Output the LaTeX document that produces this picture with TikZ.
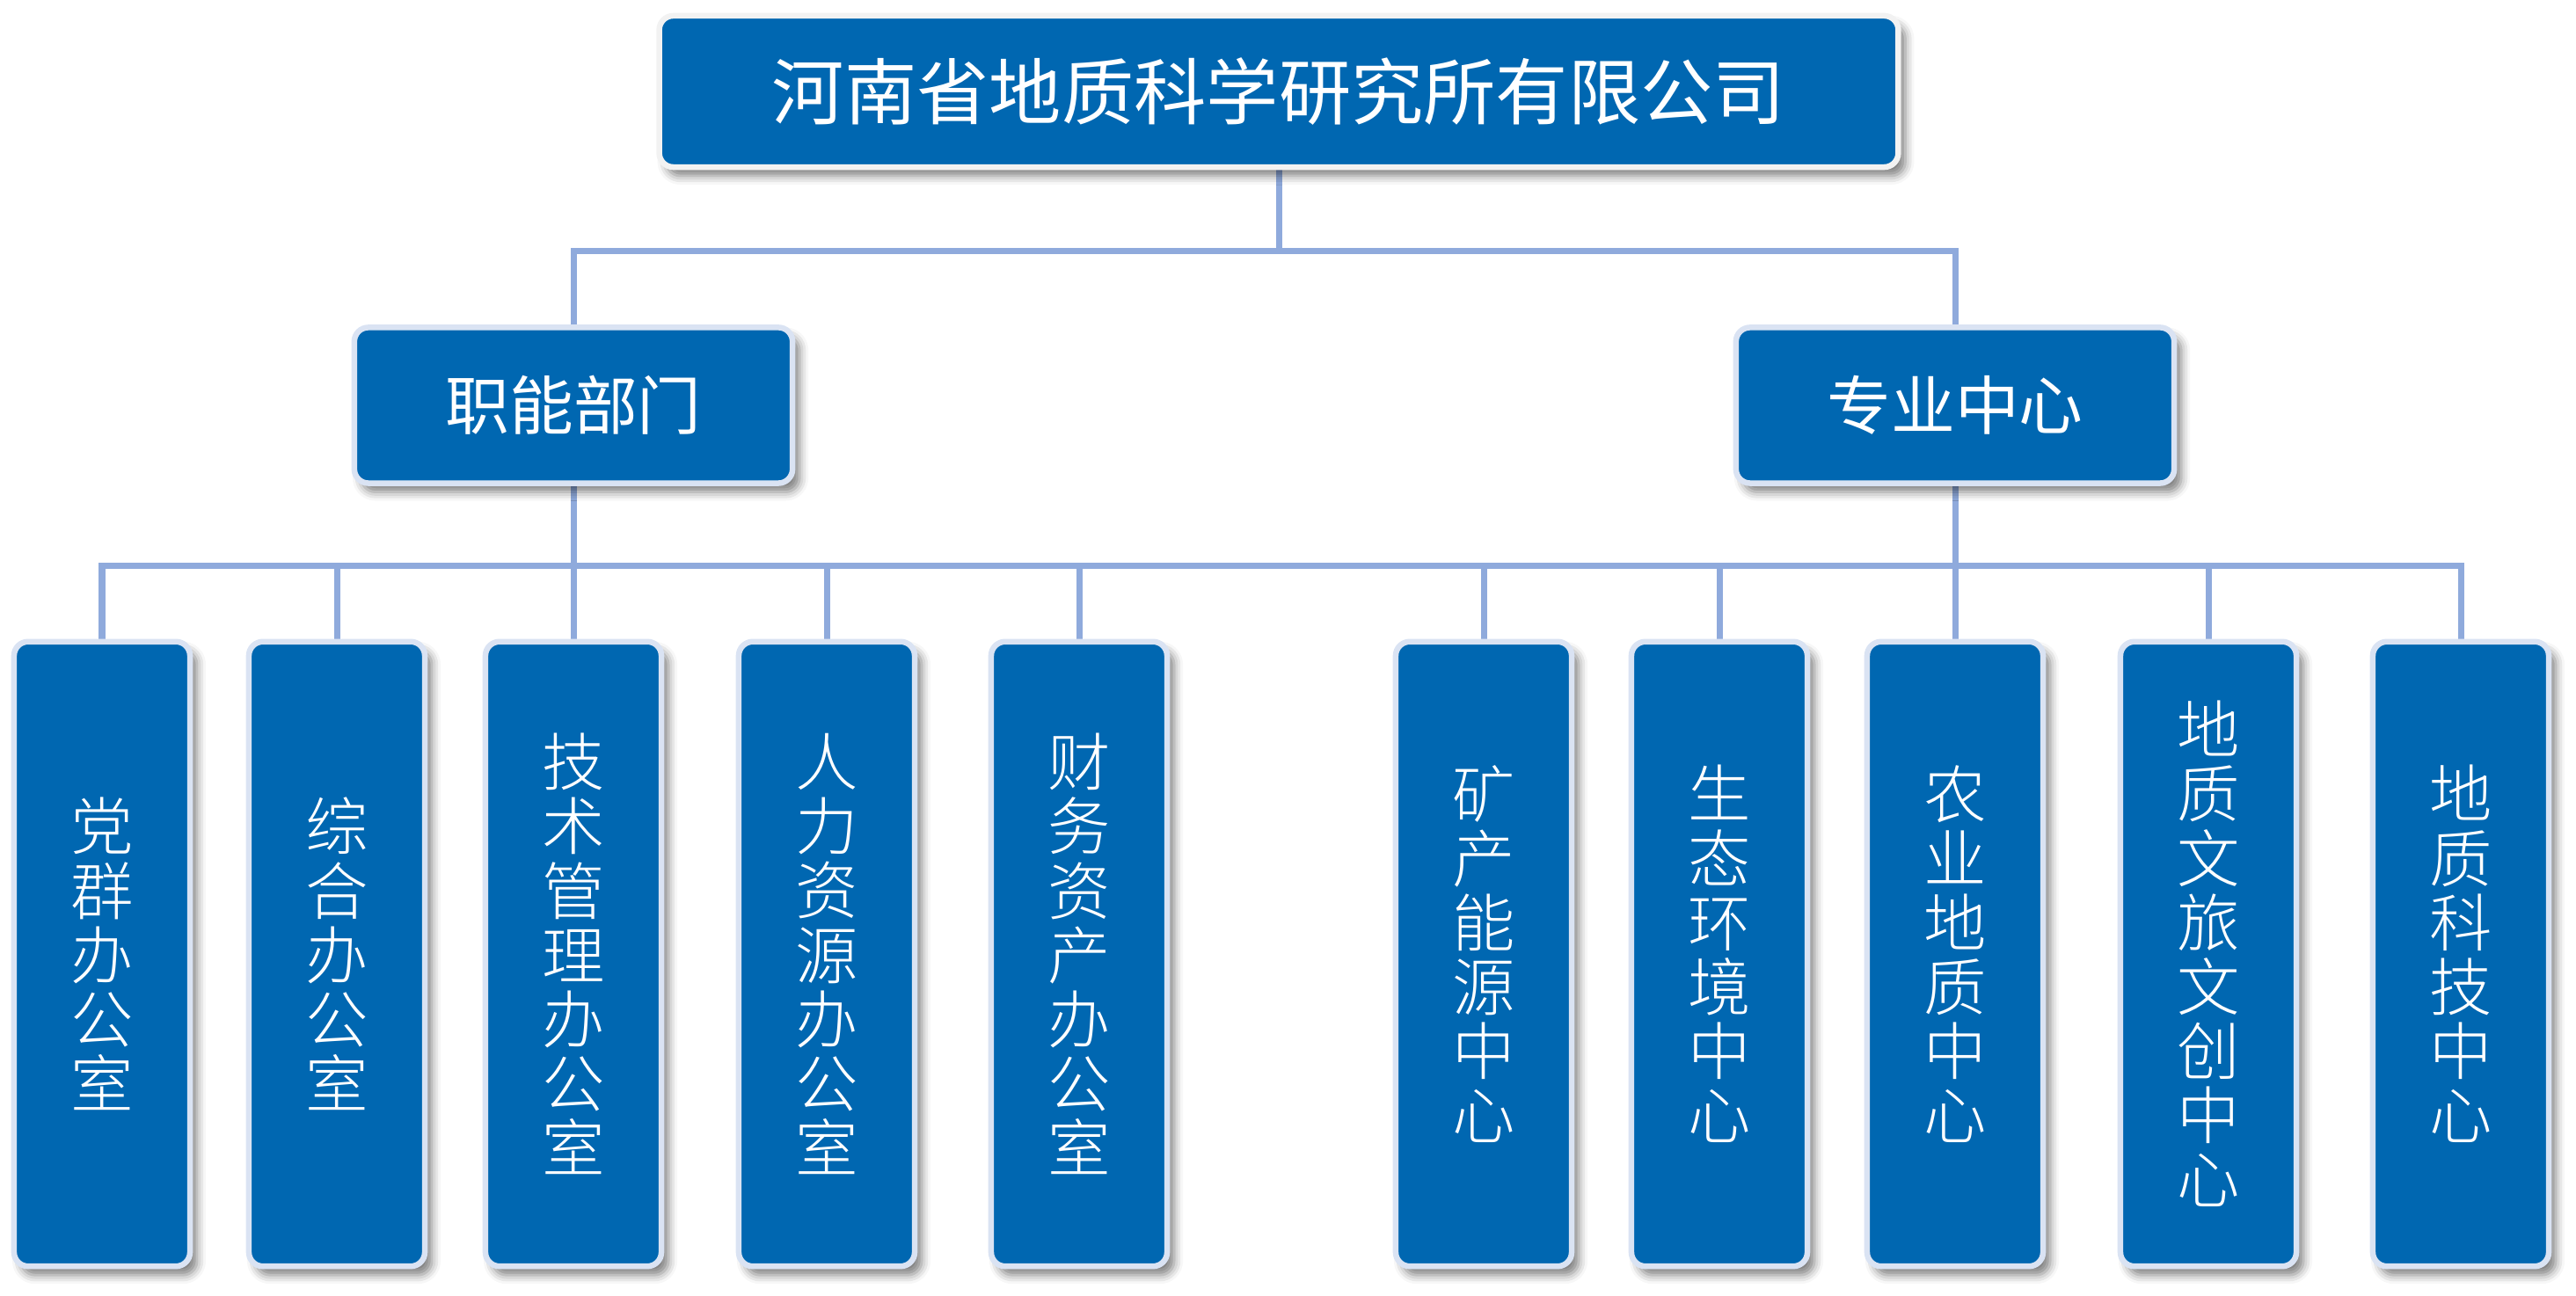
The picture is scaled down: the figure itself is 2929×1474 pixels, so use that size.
\documentclass[tikz,border=0pt]{standalone}
\usepackage{fontspec}
\newfontfamily\cjk{Noto Sans CJK SC}
\newfontfamily\cjklight{Noto Sans CJK SC Light}
\usetikzlibrary{shadows.blur,backgrounds}
\definecolor{boxblue}{RGB}{0,103,177}
\definecolor{boxedge}{RGB}{218,227,243}
\definecolor{topedge}{RGB}{242,242,242}
\definecolor{linkblue}{RGB}{143,170,220}
\tikzset{
  orgbox/.style={rectangle, rounded corners=0.16cm, fill=boxblue, draw=boxedge,
    line width=0.065cm, text=white, inner sep=0pt,
    blur shadow={shadow xshift=0.08cm, shadow yshift=-0.1cm,
      shadow blur radius=0.1cm, shadow opacity=50}},
  topbox/.style={orgbox, draw=topedge, minimum width=14.08cm, minimum height=1.72cm,
    font=\cjk\fontsize{23.4pt}{26pt}\selectfont},
  midbox/.style={orgbox, minimum width=4.98cm, minimum height=1.77cm,
    font=\cjk\fontsize{20.7pt}{24pt}\selectfont},
  leafbox/.style={orgbox, minimum width=2.0cm, minimum height=7.1cm, align=center,
    font=\cjklight\fontsize{20.3pt}{20.8pt}\selectfont},
  conn/.style={draw=linkblue, line width=0.07cm, line join=miter},
}
\begin{document}
\begin{tikzpicture}[x=0.01cm, y=-0.01cm]
\useasboundingbox (0,0) rectangle (2929,1474);
\node[topbox] (top) at (1454,104) {河南省地质科学研究所有限公司};
\node[midbox] (zn) at (652,461) {职能部门};
\node[midbox] (zy) at (2223,461) {专业中心};
\node[leafbox] (d1) at (116,1085) {党\\群\\办\\公\\室};
\node[leafbox] (d2) at (383,1085) {综\\合\\办\\公\\室};
\node[leafbox] (d3) at (652,1085) {技\\术\\管\\理\\办\\公\\室};
\node[leafbox] (d4) at (940,1085) {人\\力\\资\\源\\办\\公\\室};
\node[leafbox] (d5) at (1227,1085) {财\\务\\资\\产\\办\\公\\室};
\node[leafbox] (z1) at (1687,1085) {矿\\产\\能\\源\\中\\心};
\node[leafbox] (z2) at (1955,1085) {生\\态\\环\\境\\中\\心};
\node[leafbox] (z3) at (2223,1085) {农\\业\\地\\质\\中\\心};
\node[leafbox] (z4) at (2511,1085) {地\\质\\文\\旅\\文\\创\\中\\心};
\node[leafbox] (z5) at (2798,1085) {地\\质\\科\\技\\中\\心};
\coordinate (bus1) at (1454,286);
\coordinate (bus2) at (1454,644);
\begin{pgfonlayer}{background}
\draw[conn] (top.south) -- (bus1);
\draw[conn] (zn.north) -- (zn.north |- bus1) -- (zy.north |- bus1) -- (zy.north);
\draw[conn] (zn.south) -- (zn.south |- bus2);
\draw[conn] (zy.south) -- (zy.south |- bus2);
\draw[conn] (d1.north) -- (d1.north |- bus2) -- (z5.north |- bus2) -- (z5.north);
\foreach \b in {d2,d3,d4,d5,z1,z2,z3,z4}
  \draw[conn] (\b.north) -- (\b.north |- bus2);
\end{pgfonlayer}
\end{tikzpicture}
\end{document}
